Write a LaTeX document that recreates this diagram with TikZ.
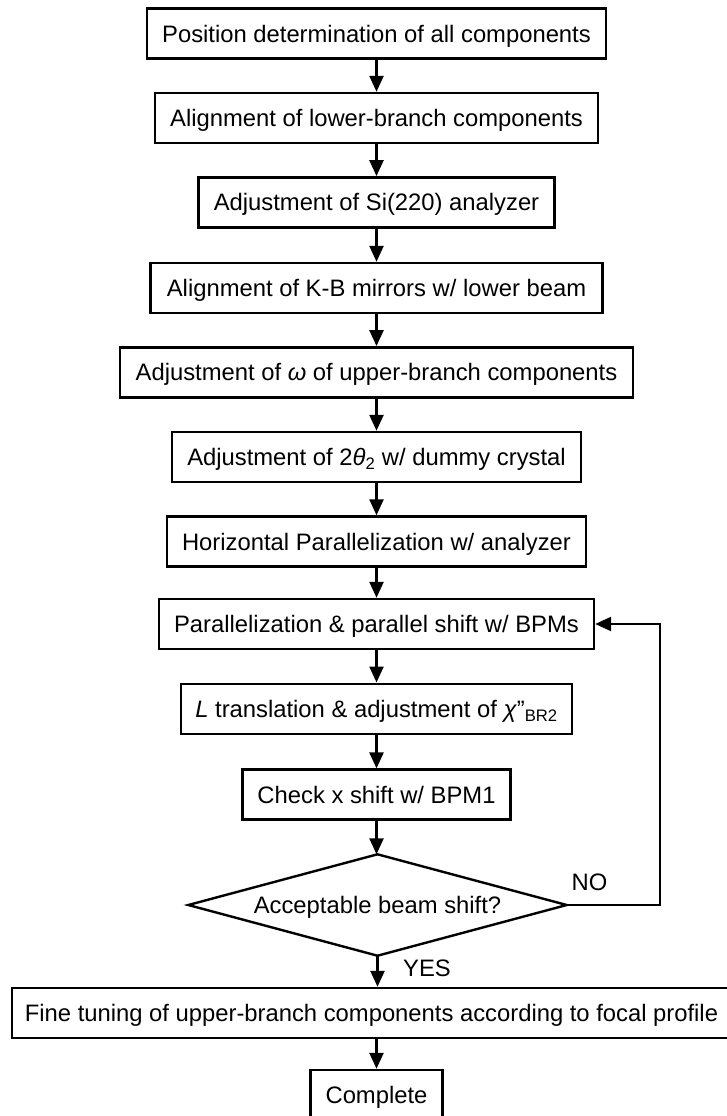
\documentclass[tikz,border=0pt]{standalone}
\usepackage{fontspec}
\setmainfont{Liberation Sans}
\usetikzlibrary{arrows.meta}
\begin{document}
\begin{tikzpicture}[x=1pt,y=-1pt,
  stepbox/.style={draw, line width=2.4pt, fill=white, minimum height=50pt, inner sep=0pt,
    text height=17.2pt, text depth=0pt, font=\fontsize{23.8}{28}\selectfont},
  arr/.style={-{Triangle[width=14pt,length=16pt]}, line width=2.4pt},
  lbl/.style={font=\fontsize{23.8}{28}\selectfont, inner sep=0pt}]
\clip (0,0) rectangle (727,1116);
\fill[white] (0,0) rectangle (727,1116);

\node[stepbox, minimum width=459pt] (b1) at (376.5,33.5) {Position determination of all components};
\node[stepbox, minimum width=443pt] (b2) at (376.5,118) {Alignment of lower-branch components};
\node[stepbox, minimum width=356pt] (b3) at (376.5,202.3) {Adjustment of Si(220) analyzer};
\node[stepbox, minimum width=452pt] (b4) at (376.5,288) {Alignment of K-B mirrors w/ lower beam};
\node[stepbox, minimum width=513pt] (b5) at (376.5,372.3) {Adjustment of \textit{ω} of upper-branch components};
\node[stepbox, minimum width=409pt] (b6) at (376.5,457) {Adjustment of 2\textit{θ}\textsubscript{2} w/ dummy crystal};
\node[stepbox, minimum width=419pt] (b7) at (376.5,541.5) {Horizontal Parallelization w/ analyzer};
\node[stepbox, minimum width=435pt] (b8) at (376.5,624) {Parallelization \& parallel shift w/ BPMs};
\node[stepbox, minimum width=391pt] (b9) at (376.5,708.7) {\textit{L} translation \& adjustment of \textit{χ}”\textsubscript{BR2}};
\node[stepbox, minimum width=268pt] (b10) at (376.5,794.6) {Check x shift w/ BPM1};
\node[lbl, minimum width=378pt, minimum height=101pt, text height=17.2pt, text depth=0pt] (d) at (377.5,905) {Acceptable beam shift?};
\draw[line width=2.4pt, line join=miter] (d.north) -- (d.east) -- (d.south) -- (d.west) -- cycle;
\node[stepbox, minimum width=719pt] (b11) at (371.5,1013) {Fine tuning of upper-branch components according to focal profile};
\node[stepbox, minimum width=132pt] (b12) at (376.5,1095) {Complete};

\draw[arr] (b1.south) -- (b2.north);
\draw[arr] (b2.south) -- (b3.north);
\draw[arr] (b3.south) -- (b4.north);
\draw[arr] (b4.south) -- (b5.north);
\draw[arr] (b5.south) -- (b6.north);
\draw[arr] (b6.south) -- (b7.north);
\draw[arr] (b7.south) -- (b8.north);
\draw[arr] (b8.south) -- (b9.north);
\draw[arr] (b9.south) -- (b10.north);
\draw[arr] (b10.south) -- (b10.south |- d.north);
\draw[arr] (d.south) -- (d.south |- b11.north);
\draw[arr] (b12.north |- b11.south) -- (b12.north);

\coordinate (lp) at (660,905);
\draw[arr] (d.east) -- (lp) |- (b8.east);

\node[lbl] (no) at (589.5,882) {NO};
\node[lbl] (yes) at (427,968) {YES};
\end{tikzpicture}
\end{document}
